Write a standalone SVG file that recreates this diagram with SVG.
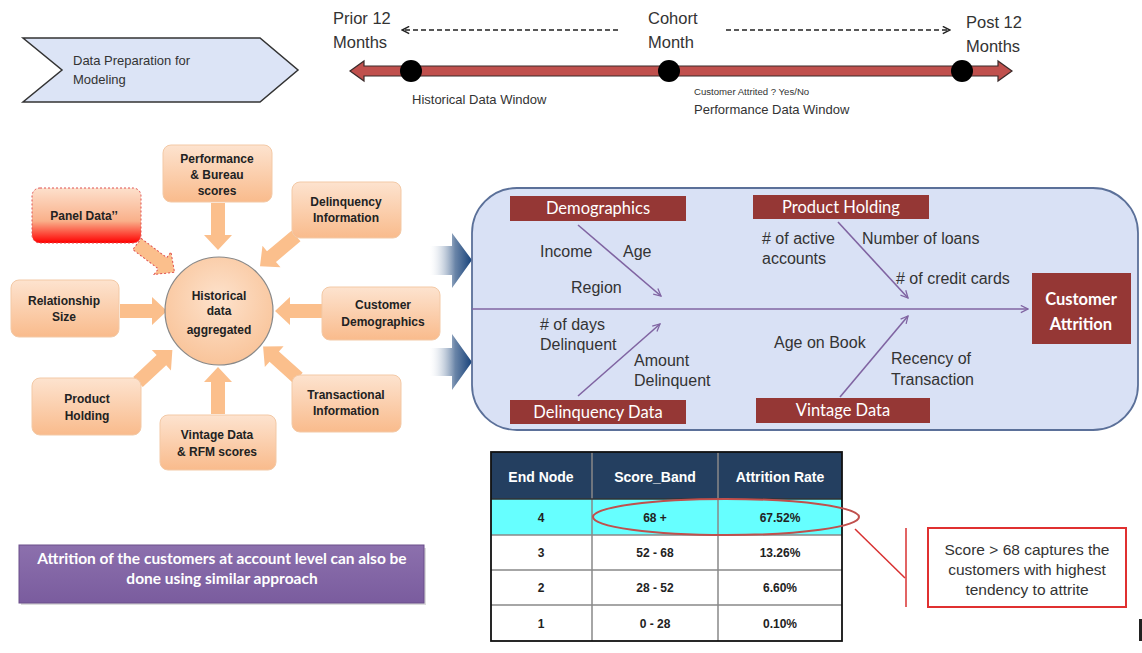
<svg xmlns="http://www.w3.org/2000/svg" width="1142" height="653" viewBox="0 0 1142 653">
<defs>
<style>
.t{font-family:"Liberation Sans",Arial,sans-serif;fill:#333}
.lbl{font-family:"Liberation Sans",Arial,sans-serif;font-size:16px;fill:#333}
.nb{font-family:"Liberation Sans",Arial,sans-serif;font-size:12px;font-weight:bold;fill:#222;text-anchor:middle}
.box{fill:url(#og);stroke:#f3c9a6;stroke-width:1}
.blk{fill:#fbbf8c}
.rb{fill:#953735}
.rbt{font-family:Lato,"Open Sans",sans-serif;font-size:16.5px;fill:#fff;text-anchor:middle}
.bone{stroke:#8064a2;stroke-width:1.6;fill:none;marker-end:url(#pa)}
.tc{font-family:"Liberation Sans",Arial,sans-serif;font-size:12px;font-weight:bold;fill:#222;text-anchor:middle}
.th{font-family:"Liberation Sans",Arial,sans-serif;font-size:14px;font-weight:bold;fill:#fff;text-anchor:middle}
</style>
<linearGradient id="og" x1="0" y1="0" x2="0" y2="1"><stop offset="0" stop-color="#fde3cf"/><stop offset="1" stop-color="#f9bb8c"/></linearGradient>
<linearGradient id="pg" x1="0" y1="0" x2="0" y2="1"><stop offset="0" stop-color="#fde0cc"/><stop offset="0.6" stop-color="#f9b08a"/><stop offset="1" stop-color="#ff0000"/></linearGradient>
<radialGradient id="cg" cx="0.5" cy="0.4" r="0.6"><stop offset="0" stop-color="#fde2cc"/><stop offset="1" stop-color="#f9c49a"/></radialGradient>
<linearGradient id="bg" x1="0" y1="0" x2="1" y2="0"><stop offset="0" stop-color="#ffffff" stop-opacity="0.2"/><stop offset="0.6" stop-color="#6a85a8"/><stop offset="1" stop-color="#17427a"/></linearGradient>
<linearGradient id="vg" x1="0" y1="0" x2="0" y2="1"><stop offset="0" stop-color="#8c70ad"/><stop offset="1" stop-color="#7a5c9e"/></linearGradient>
<path id="ba" d="M0,-7 H32 V-14 L47,0 L32,14 V7 H0 Z"/>
<marker id="pa" viewBox="0 0 10 10" refX="9" refY="5" markerWidth="9" markerHeight="9" markerUnits="userSpaceOnUse" orient="auto"><path d="M1,1 L9,5 L1,9" fill="none" stroke="#8064a2" stroke-width="1.4"/></marker>
<marker id="da" viewBox="0 0 10 10" refX="9" refY="5" markerWidth="9" markerHeight="9" markerUnits="userSpaceOnUse" orient="auto"><path d="M1,1 L9,5 L1,9" fill="none" stroke="#222" stroke-width="1.6"/></marker>
</defs>
<rect width="1142" height="653" fill="#fff"/>

<g id="chevron">
<path d="M23,38 H260 L298,70 L260,102 H23 L62,70 Z" fill="#dce4f6" stroke="#333" stroke-width="1.5"/>
<text class="t" x="73" y="65" font-size="13">Data Preparation for</text>
<text class="t" x="73" y="84" font-size="13">Modeling</text>
</g>

<g id="timeline">
<path d="M350,71 L364,61 V66 H998 V61 L1012,71 L998,81 V76 H364 V81 Z" fill="#c0504d" stroke="#3b2a2a" stroke-width="1.2"/>
<circle cx="411" cy="71" r="11" fill="#000"/>
<circle cx="669" cy="71" r="11" fill="#000"/>
<circle cx="962" cy="71" r="11" fill="#000"/>
<text class="t" x="333" y="24" font-size="16.5" fill="#444">Prior 12</text>
<text class="t" x="333" y="48" font-size="16.5">Months</text>
<text class="t" x="648" y="24" font-size="16.5">Cohort</text>
<text class="t" x="648" y="48" font-size="16.5">Month</text>
<text class="t" x="966" y="28" font-size="16.5">Post 12</text>
<text class="t" x="966" y="52" font-size="16.5">Months</text>
<text class="t" x="412" y="104" font-size="13">Historical Data Window</text>
<text class="t" x="694" y="95" font-size="9.6">Customer Attrited ? Yes/No</text>
<text class="t" x="694" y="114" font-size="13">Performance Data Window</text>
</g>

<g id="connectors">
<line x1="618" y1="30" x2="402" y2="30" stroke="#222" stroke-width="1.5" stroke-dasharray="5,3" marker-end="url(#da)"/>
<line x1="726" y1="30" x2="950" y2="30" stroke="#222" stroke-width="1.5" stroke-dasharray="5,3" marker-end="url(#da)"/>
<use href="#ba" class="blk" transform="translate(218,203) rotate(90)"/>
<use href="#ba" class="blk" transform="translate(296,236) rotate(140)"/>
<use href="#ba" fill="#fbbf8c" stroke="#e05050" stroke-width="1" stroke-dasharray="2,2" transform="translate(137,244) rotate(37)"/>
<use href="#ba" class="blk" transform="translate(120,311) rotate(0)"/>
<use href="#ba" class="blk" transform="translate(322,311) rotate(180)"/>
<use href="#ba" class="blk" transform="translate(138,382) rotate(-43)"/>
<use href="#ba" class="blk" transform="translate(298,378) rotate(-138)"/>
<use href="#ba" class="blk" transform="translate(218,414) rotate(-90)"/>
<path d="M430,246 H452 V233 L472,260 L452,288 V275 H430 Z" fill="url(#bg)"/>
<path d="M430,348 H452 V334 L472,362 L452,390 V376 H430 Z" fill="url(#bg)"/>
</g>

<g id="hub">
<circle cx="219" cy="311" r="54" fill="url(#cg)" stroke="#888" stroke-width="1.2"/>
<text class="nb" x="219" y="300">Historical</text>
<text class="nb" x="219" y="315">data</text>
<text class="nb" x="219" y="334">aggregated</text>
</g>
<g id="n-perf"><rect class="box" x="163" y="145" width="109" height="57" rx="8"/>
<text class="nb" x="217" y="163">Performance</text><text class="nb" x="217" y="179">&amp; Bureau</text><text class="nb" x="217" y="195">scores</text></g>
<g id="n-delinq"><rect class="box" x="292" y="182" width="109" height="56" rx="8"/>
<text class="nb" x="346" y="206">Delinquency</text><text class="nb" x="346" y="222">Information</text></g>
<g id="n-panel"><rect x="32" y="188" width="109" height="55" rx="8" fill="url(#pg)" stroke="#e05050" stroke-dasharray="2,2"/>
<text class="nb" x="84" y="220">Panel Data’’</text></g>
<g id="n-rel"><rect class="box" x="11" y="280" width="108" height="57" rx="8"/>
<text class="nb" x="64" y="305">Relationship</text><text class="nb" x="64" y="321">Size</text></g>
<g id="n-cust"><rect class="box" x="322" y="287" width="118" height="53" rx="8"/>
<text class="nb" x="383" y="309">Customer</text><text class="nb" x="383" y="326">Demographics</text></g>
<g id="n-prod"><rect class="box" x="32" y="378" width="109" height="57" rx="8"/>
<text class="nb" x="87" y="403">Product</text><text class="nb" x="87" y="420">Holding</text></g>
<g id="n-trans"><rect class="box" x="292" y="375" width="109" height="57" rx="8"/>
<text class="nb" x="346" y="399">Transactional</text><text class="nb" x="346" y="415">Information</text></g>
<g id="n-vint"><rect class="box" x="160" y="415" width="116" height="55" rx="8"/>
<text class="nb" x="217" y="439">Vintage Data</text><text class="nb" x="217" y="456">&amp; RFM scores</text></g>

<g id="fishbone">
<rect x="472" y="188" width="666" height="242" rx="45" fill="#d9e1f5" stroke="#5b7099" stroke-width="1.8"/>
<line x1="472" y1="309" x2="1028" y2="309" class="bone"/>
<line x1="578" y1="225" x2="661" y2="296" class="bone"/>
<line x1="578" y1="396" x2="660" y2="324" class="bone"/>
<line x1="838" y1="222" x2="908" y2="298" class="bone"/>
<line x1="840" y1="397" x2="908" y2="316" class="bone"/>
<text class="lbl" x="540" y="257">Income</text>
<text class="lbl" x="623" y="257">Age</text>
<text class="lbl" x="571" y="293">Region</text>
<text class="lbl" x="540" y="330"># of days</text>
<text class="lbl" x="540" y="350">Delinquent</text>
<text class="lbl" x="634" y="366">Amount</text>
<text class="lbl" x="634" y="386">Delinquent</text>
<text class="lbl" x="762" y="244"># of active</text>
<text class="lbl" x="762" y="264">accounts</text>
<text class="lbl" x="862" y="244">Number of loans</text>
<text class="lbl" x="896" y="284"># of credit cards</text>
<text class="lbl" x="774" y="348">Age on Book</text>
<text class="lbl" x="891" y="364">Recency of</text>
<text class="lbl" x="891" y="385">Transaction</text>
</g>
<g id="f-demo"><rect class="rb" x="510" y="196" width="176" height="25"/><text class="rbt" x="598" y="214">Demographics</text></g>
<g id="f-prod"><rect class="rb" x="753" y="195" width="176" height="24"/><text class="rbt" x="841" y="213">Product Holding</text></g>
<g id="f-delq"><rect class="rb" x="510" y="400" width="176" height="24"/><text class="rbt" x="598" y="418">Delinquency Data</text></g>
<g id="f-vint"><rect class="rb" x="756" y="398" width="174" height="25"/><text class="rbt" x="843" y="416">Vintage Data</text></g>
<g id="f-attr"><rect class="rb" x="1032" y="273" width="99" height="71"/>
<text class="rbt" x="1081" y="305" font-size="19" font-weight="bold">Customer</text><text class="rbt" x="1081" y="330" font-size="19" font-weight="bold">Attrition</text></g>

<g id="table">
<rect x="491" y="452" width="351" height="47" fill="#243f60"/>
<rect x="491" y="499" width="351" height="36" fill="#66ffff"/>
<rect x="491" y="535" width="351" height="106" fill="#fff"/>
<g stroke="#888" stroke-width="1.5">
<line x1="592" y1="452" x2="592" y2="641"/><line x1="718" y1="452" x2="718" y2="641"/>
<line x1="491" y1="499" x2="842" y2="499" stroke="#333"/>
<line x1="491" y1="535" x2="842" y2="535"/><line x1="491" y1="570" x2="842" y2="570"/><line x1="491" y1="605" x2="842" y2="605"/>
</g>
<rect x="491" y="452" width="351" height="189" fill="none" stroke="#111" stroke-width="1.8"/>
<text class="th" x="541" y="482">End Node</text>
<text class="th" x="655" y="482">Score_Band</text>
<text class="th" x="780" y="482">Attrition Rate</text>
<text class="tc" x="541" y="522">4</text><text class="tc" x="655" y="522">68 +</text><text class="tc" x="780" y="522">67.52%</text>
<text class="tc" x="541" y="557">3</text><text class="tc" x="655" y="557">52 - 68</text><text class="tc" x="780" y="557">13.26%</text>
<text class="tc" x="541" y="592">2</text><text class="tc" x="655" y="592">28 - 52</text><text class="tc" x="780" y="592">6.60%</text>
<text class="tc" x="541" y="628">1</text><text class="tc" x="655" y="628">0 - 28</text><text class="tc" x="780" y="628">0.10%</text>
<ellipse cx="726" cy="517" rx="133" ry="18" fill="none" stroke="#c0504d" stroke-width="2"/>
</g>

<g id="callout">
<polyline points="855,529 905,578" fill="none" stroke="#d83030" stroke-width="1.5"/>
<line x1="906" y1="528" x2="906" y2="607" stroke="#d83030" stroke-width="1.5"/>
<rect x="928" y="528" width="198" height="79" fill="#fff" stroke="#e03030" stroke-width="2"/>
<text class="t" x="1027" y="555" font-size="15.5" text-anchor="middle" fill="#444">Score &gt; 68 captures the</text>
<text class="t" x="1027" y="575" font-size="15.5" text-anchor="middle" fill="#444">customers with highest</text>
<text class="t" x="1027" y="595" font-size="15.5" text-anchor="middle" fill="#444">tendency to attrite</text>
</g>

<g id="note">
<rect x="21" y="548" width="405" height="57" fill="#999" opacity="0.35"/>
<rect x="19" y="545" width="405" height="58" fill="url(#vg)" stroke="#6a4e8a" stroke-width="1"/>
<text x="222" y="564" font-family="Lato,'Open Sans',sans-serif" font-size="15.5" font-weight="bold" fill="#fff" text-anchor="middle">Attrition of the customers at account level can also be</text>
<text x="222" y="584" font-family="Lato,'Open Sans',sans-serif" font-size="15.5" font-weight="bold" fill="#fff" text-anchor="middle">done using similar approach</text>
</g>
<rect x="1139" y="619" width="3" height="22" fill="#222"/>
</svg>
